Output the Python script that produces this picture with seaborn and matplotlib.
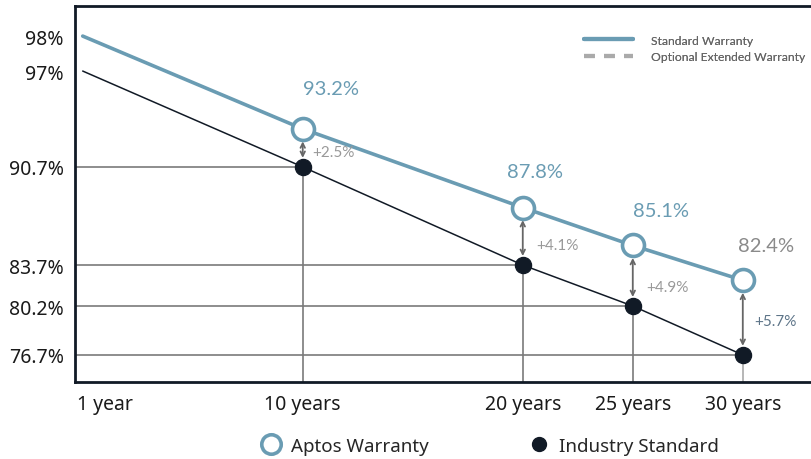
import matplotlib
matplotlib.use("Agg")
import matplotlib.pyplot as plt
import seaborn as sns
import numpy as np
import pandas as pd
from matplotlib.lines import Line2D

# chart data
years = [0, 10, 20, 25, 30]
aptos = [98, 93.2, 87.8, 85.1, 82.4]
industry = [97, 90.7, 83.7, 80.2, 76.7]
tick_years = [1, 10, 20, 25, 30]
tick_labels = ["1 year", "10 years", "20 years", "25 years", "30 years"]
y_ticks = [98, 97, 90.7, 83.7, 80.2, 76.7]

# the original axis is not evenly spaced: piecewise scale through the tick values
scale_vals = [74.77, 76.7, 80.2, 83.7, 90.7, 97, 98, 98.86]
scale_frac = [0.0, 0.072, 0.202, 0.311, 0.572, 0.827, 0.920, 1.0]

label_offsets = [(20, 29), (9, 26), (20, 25), (17, 25)]
delta_offsets = [(7, -3), (10, -6), (10, -7), (8, -4)]

BLUE = "#6a9cb3"
NAVY = "#111a26"
GRID = "#7a7a7a"

sns.set_style("white")
plt.rcParams["font.family"] = ["Noto Sans", "DejaVu Sans"]

df = pd.DataFrame({"year": years, "aptos": aptos, "industry": industry})

fig = plt.figure(figsize=(8.11, 4.6), dpi=100)
ax = fig.add_axes([75 / 811, 77 / 460, 736 / 811, 376 / 460])
ax.set_yscale("function", functions=(lambda v: np.interp(v, scale_vals, scale_frac),
                                     lambda f: np.interp(f, scale_frac, scale_vals)))
ax.set_xlim(-0.35, 33.1)
ax.set_ylim(scale_vals[0], scale_vals[-1])

# guide lines to the industry points
pts = df.iloc[1:]
ax.hlines(pts["industry"], -0.35, pts["year"], color=GRID, lw=1.2, zorder=1)
ax.vlines(pts["year"].iloc[:-1], scale_vals[0], pts["industry"].iloc[:-1], color=GRID, lw=1.2, zorder=1)
ax.vlines(pts["year"].iloc[-1:], scale_vals[0], pts["industry"].iloc[-1:], color="#aaaaaa", lw=1.2, zorder=1)

sns.lineplot(data=df, x="year", y="industry", color=NAVY, lw=1.1, ax=ax, zorder=2)
sns.lineplot(data=df, x="year", y="aptos", color=BLUE, lw=2.6, ax=ax, zorder=3)
sns.scatterplot(data=pts, x="year", y="industry", color=NAVY, s=135, ax=ax,
                edgecolor=NAVY, zorder=4)
sns.scatterplot(data=pts, x="year", y="aptos", color="white", s=250, ax=ax,
                edgecolor=BLUE, linewidth=2.6, zorder=5)

# value labels and gap arrows
for i, (yr, a, b) in enumerate(zip(pts["year"], pts["aptos"], pts["industry"])):
    col = "#8a8a8a" if i == 3 else BLUE
    ax.annotate(f"{a}%", (yr, a), xytext=label_offsets[i], textcoords="offset points",
                ha="center", va="center", fontsize=14.5, color=col, family="Lato")
    ax.annotate("", xy=(yr, b), xytext=(yr, a),
                arrowprops=dict(arrowstyle="<->", color="#666666", lw=1.3,
                                shrinkA=9, shrinkB=6.5, mutation_scale=8))
    dcol = "#5d7488" if i == 3 else "#999999"
    ax.annotate(f"+{a - b:.1f}%", (yr, (a + b) / 2), xytext=delta_offsets[i],
                textcoords="offset points", ha="left", va="center",
                fontsize=11, color=dcol, family="Lato")

ax.set_xticks(tick_years)
ax.set_xticklabels(tick_labels, fontsize=14, color="#1a1a1a")
ax.set_yticks(y_ticks)
ax.set_yticklabels([f"{v:g}%" for v in y_ticks], fontsize=14, color="#1a1a1a")
ax.yaxis.set_minor_locator(matplotlib.ticker.NullLocator())
ax.tick_params(axis="both", which="both", length=0, pad=8)
ax.tick_params(axis="x", pad=9)
ax.set_xlabel("")
ax.set_ylabel("")

for side in ["left", "bottom", "top"]:
    ax.spines[side].set_color(NAVY)
    ax.spines[side].set_linewidth(2)
ax.spines["right"].set_visible(False)

# top-right legend
top_handles = [Line2D([], [], color=BLUE, lw=3),
               Line2D([], [], color="#aaaaaa", lw=3, ls=(0, (2.6, 2.2)))]
leg1 = ax.legend(top_handles, ["Standard Warranty", "Optional Extended Warranty"],
                 loc="upper right", bbox_to_anchor=(1.0, 0.94), frameon=False,
                 borderaxespad=0.1, handlelength=4.0, handletextpad=1.5, labelspacing=0.45,
                 prop={"family": "Lato", "size": 8.7})
for t in leg1.get_texts():
    t.set_color("#666666")
ax.add_artist(leg1)

# bottom legend
bottom_handles = [Line2D([], [], ls="", marker="o", ms=14, mfc="white", mec=BLUE, mew=2.6),
                  Line2D([], [], ls="", marker="o", ms=10, mfc=NAVY, mec=NAVY)]
fig.legend(bottom_handles, ["Aptos Warranty", "Industry Standard"], loc="lower center",
           bbox_to_anchor=(0.603, -0.027), ncol=2, frameon=False, fontsize=13.5,
           handlelength=1.2, columnspacing=5.3, handletextpad=0.45)

fig.savefig("out.png", dpi=100)
